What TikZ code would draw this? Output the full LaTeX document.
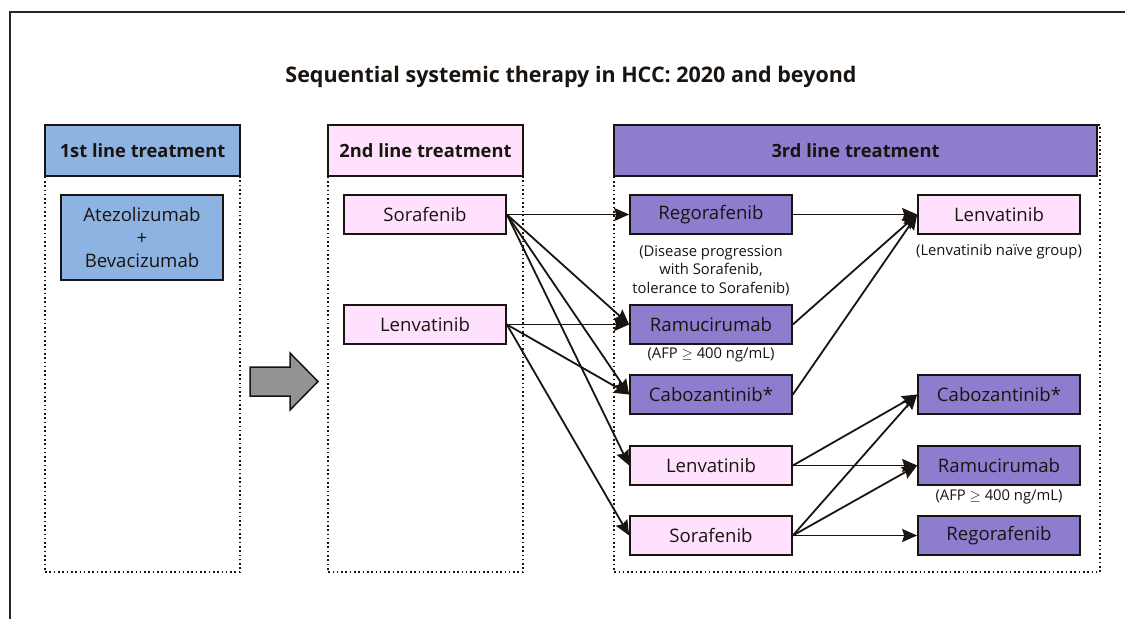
\documentclass[tikz,border=0pt]{standalone}
\usepackage{fontspec}
\setmainfont{Open Sans}
\usetikzlibrary{arrows.meta}
\definecolor{cblue}{HTML}{8DB3E2}
\definecolor{cpink}{HTML}{FFE1FD}
\definecolor{cpurple}{HTML}{8E7CCE}
\definecolor{cline}{HTML}{1A1410}
\definecolor{cgray}{HTML}{939393}
\tikzset{
  drug/.style={draw=cline, line width=1.7pt, minimum width=162pt, minimum height=39pt, inner sep=0pt, font=\fontsize{18.6}{20}\selectfont, text=cline},
  pinkbox/.style={drug, fill=cpink},
  purplebox/.style={drug, fill=cpurple},
  header/.style={draw=cline, line width=1.7pt, minimum height=51pt, inner sep=0pt, font=\fontsize{18.3}{20}\bfseries\selectfont, text=cline},
  column/.style={draw=cline, line width=1.5pt, dash pattern=on 1.6pt off 2.7pt},
  note/.style={font=\fontsize{14.8}{18.5}\selectfont, text=cline, align=center, inner sep=0pt},
  conn/.style={draw=cline, line width=1.8pt, -{Stealth[length=15pt,width=13pt,inset=2pt]}},
}
\begin{document}
\begin{tikzpicture}[x=1pt,y=-1pt]
\useasboundingbox (0,0) rectangle (1125,619);
% outer frame
\draw[line width=1.4pt, draw=black!85] (10,619) -- (10,12) -- (1125,12);
% title
\node[font=\fontsize{21.5}{24}\bfseries\selectfont, text=cline] (title) at (571,77) {Sequential systemic therapy in HCC: 2020 and beyond};
% columns
\draw[column] (45,125) rectangle (240,572);
\draw[column] (328,125) rectangle (523,572);
\draw[column] (614,125) rectangle (1100,572);
% headers
\node[header, fill=cblue, minimum width=195pt] (h1) at (142.5,150.5) {1st line treatment};
\node[header, fill=cpink, minimum width=195pt] (h2) at (425.5,150.5) {2nd line treatment};
\node[header, fill=cpurple, minimum width=483pt] (h3) at (855.5,150.5) {3rd line treatment};
% first line
\node[drug, fill=cblue, minimum height=85pt, align=center, font=\fontsize{18.6}{23}\selectfont] (atezo) at (142,237.5) {Atezolizumab\\+\\Bevacizumab};
% big gray arrow
\draw[draw=cline, line width=1.5pt, fill=cgray] (250,367) -- (290,367) -- (290,353) -- (318,381.5) -- (290,410) -- (290,396) -- (250,396) -- cycle;
% second line
\node[pinkbox] (sor2) at (425,214.5) {Sorafenib};
\node[pinkbox] (len2) at (425,324.5) {Lenvatinib};
% third line, middle
\node[purplebox] (rego) at (711,214.5) {Regorafenib};
\node[purplebox] (ramu) at (711,324.5) {Ramucirumab};
\node[purplebox] (cabo) at (711,394.5) {Cabozantinib*};
\node[pinkbox] (len3) at (711,465.5) {Lenvatinib};
\node[pinkbox] (sor3) at (711,535.5) {Sorafenib};
% third line, right
\node[pinkbox] (lenR) at (999,214.5) {Lenvatinib};
\node[purplebox] (caboR) at (999,394.5) {Cabozantinib*};
\node[purplebox] (ramuR) at (999,465.5) {Ramucirumab};
\node[purplebox] (regoR) at (999,535.5) {Regorafenib};
% notes
\node[note] (n1) at (711,270.5) {(Disease progression\\with Sorafenib,\\tolerance to Sorafenib)};
\node[note] (n2) at (711,355) {(AFP $\geq$ 400 ng/mL)};
\node[note] (n3) at (999,252) {(Lenvatinib naïve group)};
\node[note] (n4) at (999,497) {(AFP $\geq$ 400 ng/mL)};
% connectors 2nd -> 3rd
\draw[conn] (sor2.east) -- (rego.west);
\draw[conn] (sor2.east) -- (ramu.west);
\draw[conn] (sor2.east) -- (cabo.west);
\draw[conn] (sor2.east) -- (len3.west);
\draw[conn] (len2.east) -- (ramu.west);
\draw[conn] (len2.east) -- (cabo.west);
\draw[conn] (len2.east) -- (sor3.west);
% connectors 3rd -> 3rd
\draw[conn] (rego.east) -- (lenR.west);
\draw[conn] (ramu.east) -- (lenR.west);
\draw[conn] (cabo.east) -- (lenR.west);
\draw[conn] (len3.east) -- (caboR.west);
\draw[conn] (len3.east) -- (ramuR.west);
\draw[conn] (sor3.east) -- (caboR.west);
\draw[conn] (sor3.east) -- (ramuR.west);
\draw[conn] (sor3.east) -- (regoR.west);
\end{tikzpicture}
\end{document}
